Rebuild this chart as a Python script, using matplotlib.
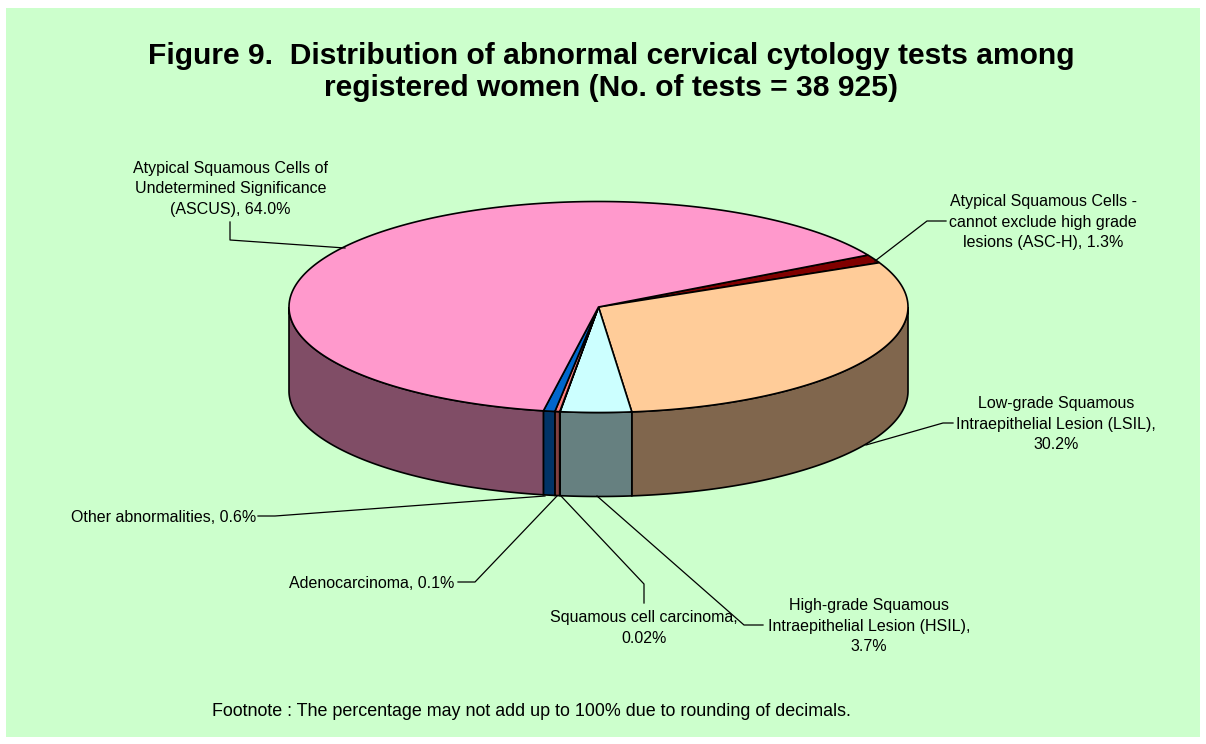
import numpy as np
import matplotlib
matplotlib.use('Agg')
import matplotlib.pyplot as plt
from matplotlib.patches import Polygon, Rectangle

plt.rcParams['font.family'] = ['Liberation Sans', 'DejaVu Sans']

# data, clockwise from the start angle
labels = ['Atypical Squamous Cells -\ncannot exclude high grade\nlesions (ASC-H), 1.3%',
          'Low-grade Squamous\nIntraepithelial Lesion (LSIL),\n30.2%',
          'High-grade Squamous\nIntraepithelial Lesion (HSIL),\n3.7%',
          'Squamous cell carcinoma,\n0.02%',
          'Adenocarcinoma, 0.1%',
          'Other abnormalities, 0.6%',
          'Atypical Squamous Cells of\nUndetermined Significance\n(ASCUS), 64.0%']
values = [1.3, 30.2, 3.7, 0.02, 0.1, 0.6, 64.0]
colors = ['#800000', '#FFCC99', '#CCFFFF', '#FF8080', '#FF8080', '#0066CC', '#FF99CC']
side_colors = ['#400000', '#80664D', '#668080', '#804040', '#804040', '#003366', '#804D66']

title = 'Figure 9.  Distribution of abnormal cervical cytology tests among\nregistered women (No. of tests = 38 925)'
footnote = 'Footnote : The percentage may not add up to 100% due to rounding of decimals.'

# pie geometry in pixels
cx, cy = 598.5, 307
rx, ry = 309.5, 105.5
depth = 84
start = 29.5

# label text position and leader line for each slice (same order as values)
label_pos = [(1043, 222, 'center'), (1056, 424, 'center'), (869, 626, 'center'),
             (644, 628, 'center'), (454, 584, 'right'), (256, 517, 'right'), (230.5, 189, 'center')]
leaders = [[(875, 261), (927, 221), (946, 221)],
           [(866, 445), (943, 423), (953, 423)],
           [(597, 496), (744, 625), (763, 625)],
           [(561, 496), (644, 584), (644, 603)],
           [(557, 496), (475, 582), (458, 582)],
           [(545, 496), (275, 516), (258, 516)],
           [(345, 248), (230, 240), (230, 222)]]


def rim(t, dy=0):
    t = np.radians(t)
    return np.column_stack([cx + rx * np.cos(t), cy - ry * np.sin(t) + dy])


fig = plt.figure(figsize=(12.06, 7.44), dpi=100, facecolor='white')
ax = fig.add_axes([0, 0, 1, 1])
ax.set_xlim(0, 1206)
ax.set_ylim(744, 0)
ax.axis('off')

ax.add_patch(Rectangle((6, 8), 1194, 729, facecolor='#CCFFCC', edgecolor='none', zorder=0))

# the adenocarcinoma sliver gets a minimum width, or the outlines swallow it
sweep = np.array(values) / sum(values) * 360
sweep[4] = max(sweep[4], 0.9)
sweep = sweep / sweep.sum() * 360
ends = start - np.cumsum(sweep)
begins = ends + sweep

# sides first: only the front half of the rim shows
for b, e, c in zip(begins, ends, side_colors):
    hi, lo = min(b, 0), max(e, -180)
    if hi <= lo:
        continue
    t = np.linspace(hi, lo, 200)
    pts = np.vstack([rim(t), rim(t[::-1], depth)])
    ax.add_patch(Polygon(pts, closed=True, facecolor=c, edgecolor='black', lw=1.2, zorder=2))

# top face
for b, e, c in zip(begins, ends, colors):
    t = np.linspace(b, e, 300)
    pts = np.vstack([[(cx, cy)], rim(t)])
    ax.add_patch(Polygon(pts, closed=True, facecolor=c, edgecolor='black', lw=1.2, zorder=3))

for lab, (x, y, ha), path in zip(labels, label_pos, leaders):
    ax.text(x, y, lab, ha=ha, va='center', fontsize=11.55, color='black', linespacing=1.47, zorder=5)
    xs, ys = zip(*path)
    ax.plot(xs, ys, color='black', lw=0.9, zorder=4)

ax.text(611, 72, title, ha='center', va='center', fontsize=21.6, fontweight='bold', linespacing=1.21)
ax.text(531, 711, footnote, ha='center', va='center', fontsize=12.9)

fig.savefig('out.png', dpi=100)
